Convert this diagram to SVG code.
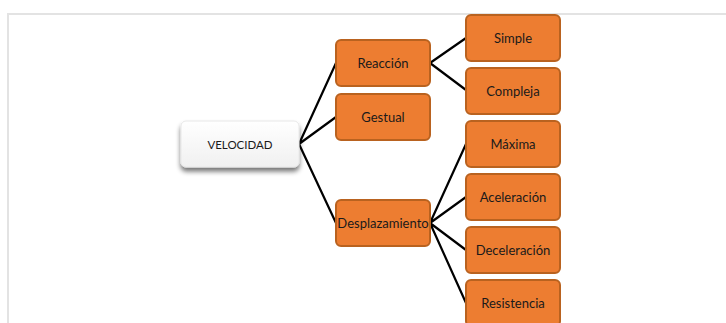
<svg xmlns="http://www.w3.org/2000/svg" width="726" height="323" viewBox="0 0 726 323">
<style>
.frame{fill:none;stroke:#e3e3e3;stroke-width:2}
.box{fill:#ED7D31;stroke:#B9621F;stroke-width:2}
.root{fill:url(#wg);stroke:#e8e8e8;stroke-width:1}
.lbl{font-family:Lato,"Open Sans","Liberation Sans",sans-serif;font-size:13px;fill:#1a1a1a;text-anchor:middle;dominant-baseline:central}
.rl{font-size:11.5px}
.conn{fill:none;stroke:#000;stroke-width:2.2}
</style>
<defs>
<linearGradient id="wg" x1="0" y1="0" x2="0" y2="1">
<stop offset="0" stop-color="#ffffff"/>
<stop offset="1" stop-color="#f0f0f0"/>
</linearGradient>
<filter id="sh" x="-20%" y="-30%" width="140%" height="170%">
<feGaussianBlur in="SourceAlpha" stdDeviation="2.5"/>
<feOffset dx="0" dy="4" result="b"/>
<feComponentTransfer><feFuncA type="linear" slope="0.55"/></feComponentTransfer>
<feMerge><feMergeNode/><feMergeNode in="SourceGraphic"/></feMerge>
</filter>
</defs>
<rect width="726" height="323" fill="#fff"/>
<path class="frame" d="M8 324 V14 H727"/>
<g id="connectors">
<path class="conn" d="M299 144 L336 63 M299 144 L336 117 M299 144 L336 223"/>
<path class="conn" d="M430 63 L466 38 M430 63 L466 90"/>
<path class="conn" d="M430 223 L466 144 M430 223 L466 197 M430 223 L466 250 M430 223 L466 303"/>
</g>
<g id="velocidad"><rect class="root" x="181" y="121" width="118" height="46" rx="5" filter="url(#sh)"/><text class="lbl rl" x="240" y="144">VELOCIDAD</text></g>
<g id="reaccion"><rect class="box" x="336" y="40" width="94" height="46" rx="5"/><text class="lbl" x="383" y="63">Reacción</text></g>
<g id="gestual"><rect class="box" x="336" y="94" width="94" height="46" rx="5"/><text class="lbl" x="383" y="117">Gestual</text></g>
<g id="desplazamiento"><rect class="box" x="336" y="200" width="94" height="46" rx="5"/><text class="lbl" x="383" y="223">Desplazamiento</text></g>
<g id="simple"><rect class="box" x="466" y="15" width="94" height="46" rx="5"/><text class="lbl" x="513" y="38">Simple</text></g>
<g id="compleja"><rect class="box" x="466" y="68" width="94" height="46" rx="5"/><text class="lbl" x="513" y="91">Compleja</text></g>
<g id="maxima"><rect class="box" x="466" y="121" width="94" height="46" rx="5"/><text class="lbl" x="513" y="144">Máxima</text></g>
<g id="aceleracion"><rect class="box" x="466" y="174" width="94" height="46" rx="5"/><text class="lbl" x="513" y="197">Aceleración</text></g>
<g id="deceleracion"><rect class="box" x="466" y="227" width="94" height="46" rx="5"/><text class="lbl" x="513" y="250">Deceleración</text></g>
<g id="resistencia"><rect class="box" x="466" y="280" width="94" height="46" rx="5"/><text class="lbl" x="513" y="303">Resistencia</text></g>
</svg>
